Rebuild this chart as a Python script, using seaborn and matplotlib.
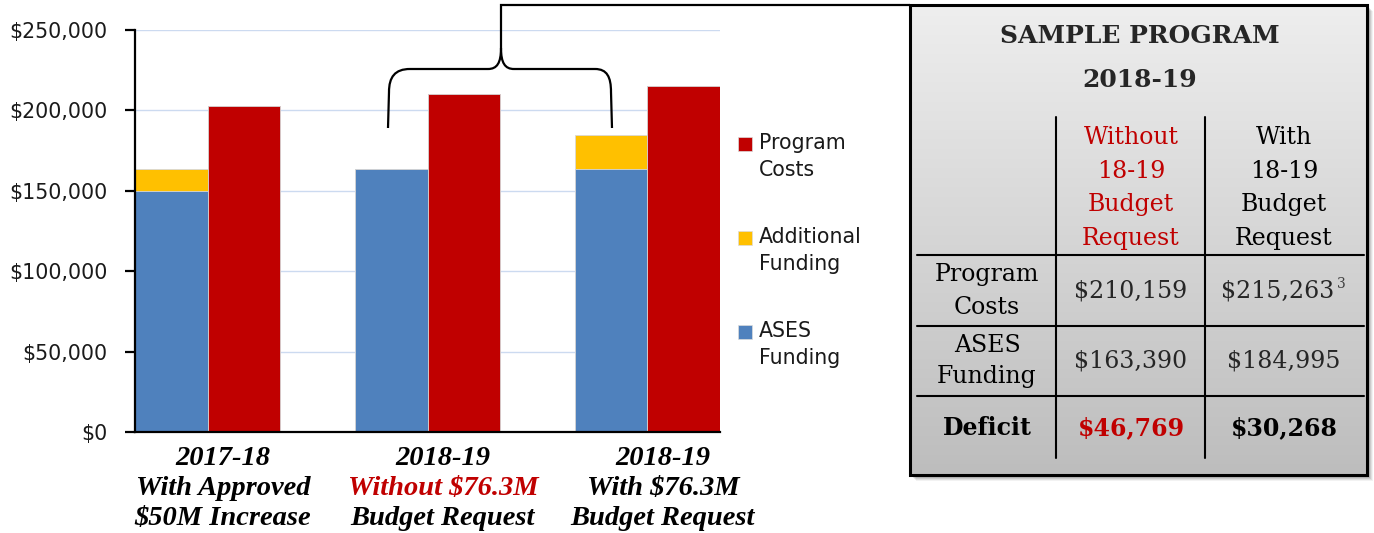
import numpy as np
import pandas as pd
import matplotlib
matplotlib.use("Agg")
import matplotlib.pyplot as plt
import seaborn as sns
from matplotlib.patches import Rectangle, PathPatch
from matplotlib.path import Path
from matplotlib.colors import LinearSegmentedColormap
from matplotlib.ticker import FuncFormatter
from matplotlib.transforms import blended_transform_factory

# ── data ────────────────────────────────────────────────────────────────────
groups = ["2017-18", "2018-19 Without", "2018-19 With"]
ases_funding = [150000, 163390, 163390]
additional_funding = [13390, 0, 21605]
program_costs = [202700, 210159, 215263]

label_year = ["2017-18", "2018-19", "2018-19"]
label_mid = ["With Approved", "Without $76.3M", "With $76.3M"]
label_bot = ["$50M Increase", "Budget Request", "Budget Request"]
label_mid_colors = ["black", "#C00000", "black"]

y_ticks = [0, 50000, 100000, 150000, 200000, 250000]

table_title = ["SAMPLE PROGRAM", "2018-19"]
table_cols = ["Without\n18-19\nBudget\nRequest", "With\n18-19\nBudget\nRequest"]
table_rows = ["Program\nCosts", "ASES\nFunding", "Deficit"]
table_costs = [210159, 215263]
table_ases = [163390, 184995]

legend_labels = ["Program\nCosts", "Additional\nFunding", "ASES\nFunding"]

BLUE, YELLOW, RED = "#4F81BD", "#FFC000", "#C00000"

# ── style ───────────────────────────────────────────────────────────────────
sns.set_style("white")
plt.rcParams["font.family"] = ["DejaVu Sans"]

fig = plt.figure(figsize=(13.74, 5.33), dpi=100)
ax = fig.add_axes([135 / 1374, 1 - 432 / 533, 585 / 1374, 402 / 533])

funding_total = [a + b for a, b in zip(ases_funding, additional_funding)]
df_top = pd.DataFrame({
    "group": groups * 2,
    "series": ["Funding"] * 3 + ["Program Costs"] * 3,
    "value": funding_total + program_costs,
})
df_base = pd.DataFrame({
    "group": groups * 2,
    "series": ["Funding"] * 3 + ["Program Costs"] * 3,
    "value": ases_funding + program_costs,
})

bar_kw = dict(x="group", y="value", hue="series", order=groups,
              hue_order=["Funding", "Program Costs"], width=0.66, gap=0,
              edgecolor="#d8d8d8", linewidth=0.6, legend=False, ax=ax,
              errorbar=None, saturation=1)
# additional funding shows as the part of the total above ASES funding
sns.barplot(data=df_top, palette={"Funding": YELLOW, "Program Costs": RED}, **bar_kw)
sns.barplot(data=df_base, palette={"Funding": BLUE, "Program Costs": RED}, **bar_kw)

ax.set_xlim(-0.33, 2.33)
ax.set_ylim(0, 250000)
ax.set_yticks(y_ticks)
ax.yaxis.set_major_formatter(FuncFormatter(lambda v, _: f"${v:,.0f}"))
ax.tick_params(axis="y", labelsize=14.8, length=7, width=1.6, color="black",
               left=True, pad=13, labelcolor="#1a1a1a")
ax.set_xticks([])
ax.set_xlabel("")
ax.set_ylabel("")
ax.grid(axis="y", color="#CCDAF0", linewidth=1)
ax.set_axisbelow(True)
for side in ["top", "right"]:
    ax.spines[side].set_visible(False)
for side in ["left", "bottom"]:
    ax.spines[side].set_color("black")
    ax.spines[side].set_linewidth(1.6)

# category labels (three lines, middle one coloured)
trans = blended_transform_factory(ax.transData, ax.transAxes)
cat_font = dict(family=["Liberation Serif"], fontsize=20.5, fontweight="bold",
                fontstyle="italic", ha="center", va="center", transform=trans)
for i in range(len(groups)):
    xc = i + 0.07
    ax.text(xc, -0.065, label_year[i], color="black", **cat_font)
    ax.text(xc, -0.14, label_mid[i], color=label_mid_colors[i], **cat_font)
    ax.text(xc, -0.215, label_bot[i], color="black", **cat_font)

# ── overlay in pixel coordinates: legend, brace, table ──────────────────────
ov = fig.add_axes([0, 0, 1, 1], zorder=5)
ov.set_xlim(0, 1374)
ov.set_ylim(533, 0)
ov.axis("off")

# legend
leg_colors = [RED, YELLOW, BLUE]
leg_y = [144, 238, 332]
for lab, col, yy in zip(legend_labels, leg_colors, leg_y):
    ov.add_patch(Rectangle((738, yy - 7), 14, 14, facecolor=col,
                           edgecolor="#dcdcdc", linewidth=0.5))
    ov.text(759, yy - 11, lab, fontsize=14.8, va="top", ha="left",
            color="#1a1a1a", linespacing=1.45)

# brace connecting 2018-19 groups to the table
verts = [(388, 128), (389, 92), (389, 77), (395, 69), (410, 69),
         (488, 69), (497, 69), (501, 63), (501, 48),
         (501, 5), (910, 5)]
codes = [Path.MOVETO, Path.LINETO, Path.CURVE4, Path.CURVE4, Path.CURVE4,
         Path.LINETO, Path.CURVE4, Path.CURVE4, Path.CURVE4,
         Path.LINETO, Path.LINETO]
ov.add_patch(PathPatch(Path(verts, codes), fill=False, lw=1.6, color="black",
                       capstyle="butt"))
verts_r = [(501, 48), (501, 63), (505, 69), (514, 69),
           (595, 69), (607, 69), (611, 77), (611, 92), (612, 128)]
codes_r = [Path.MOVETO, Path.CURVE4, Path.CURVE4, Path.CURVE4,
           Path.LINETO, Path.CURVE4, Path.CURVE4, Path.CURVE4, Path.LINETO]
ov.add_patch(PathPatch(Path(verts_r, codes_r), fill=False, lw=1.6,
                       color="black"))

# table box with shadow and grey gradient
x0, x1, y0, y1 = 910, 1367, 5, 475
for k, a in zip(range(6, 0, -1), [0.05, 0.07, 0.09, 0.11, 0.13, 0.15]):
    ov.add_patch(Rectangle((x0 + k, y0 + k), x1 - x0, y1 - y0,
                           facecolor="black", alpha=a, edgecolor="none"))
grad = LinearSegmentedColormap.from_list("g", ["#EEEEEE", "#BDBDBD"])
ov.imshow(np.linspace(0, 1, 256).reshape(-1, 1), cmap=grad, aspect="auto",
          extent=(x0, x1, y1, y0), origin="upper", zorder=2)
ov.add_patch(Rectangle((x0, y0), x1 - x0, y1 - y0, facecolor="none",
                       edgecolor="black", linewidth=2.2, zorder=3))
ov.set_xlim(0, 1374)
ov.set_ylim(533, 0)

for xv in [1056, 1205]:
    ov.plot([xv, xv], [117, 458], color="black", lw=1.5, zorder=4)
for yv in [255, 326, 396]:
    ov.plot([917, 1364], [yv, yv], color="black", lw=1.5, zorder=4)

serif = ["DejaVu Serif"]
tkw = dict(family=serif, ha="center", va="center", zorder=5)
ov.text(1140, 36, table_title[0], fontsize=18, fontweight="bold",
        color="#262626", **tkw)
ov.text(1140, 80, table_title[1], fontsize=18, fontweight="bold",
        color="#262626", **tkw)
ov.text(1131, 188, table_cols[0], fontsize=17, color="#C00000",
        linespacing=1.6, **tkw)
ov.text(1284, 188, table_cols[1], fontsize=17, color="black",
        linespacing=1.6, **tkw)

row_y = [291, 361, 428]
for lab, yy in zip(table_rows, row_y):
    bold = lab == "Deficit"
    ov.text(987, yy, lab, fontsize=17, color="black", linespacing=1.5,
            fontweight="bold" if bold else "normal", **tkw)

deficits = [c - a for c, a in zip(table_costs, table_ases)]
ov.text(1131, row_y[0], f"${table_costs[0]:,}", fontsize=17, **tkw)
ov.text(1278, row_y[0], f"${table_costs[1]:,}", fontsize=17, **tkw)
ov.text(1341, row_y[0] - 7, "3", fontsize=10, color="#404040", **tkw)
ov.text(1131, row_y[1], f"${table_ases[0]:,}", fontsize=17, **tkw)
ov.text(1284, row_y[1], f"${table_ases[1]:,}", fontsize=17, **tkw)
ov.text(1131, row_y[2], f"${deficits[0]:,}", fontsize=17, fontweight="bold",
        color="#C00000", **tkw)
ov.text(1284, row_y[2], f"${deficits[1]:,}", fontsize=17, fontweight="bold",
        color="black", **tkw)

fig.savefig("out.png", dpi=100)
